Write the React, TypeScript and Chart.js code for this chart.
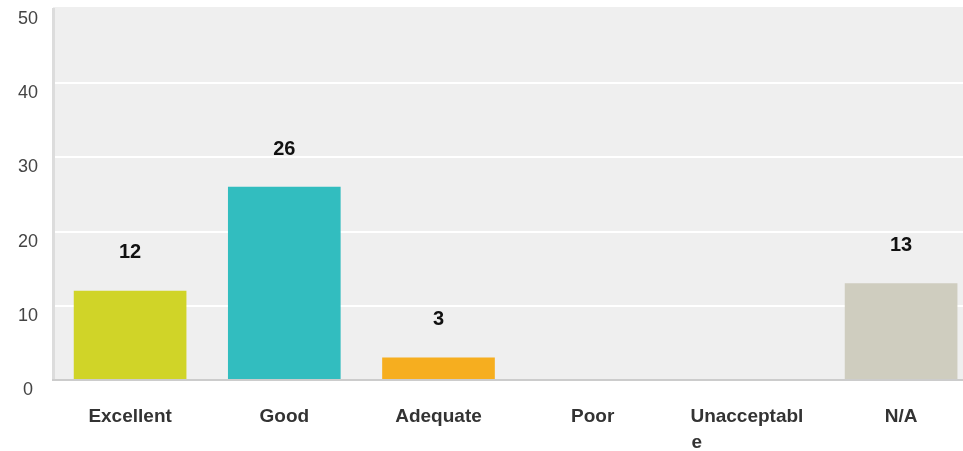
import React, { useEffect, useRef } from 'react';
import { Chart, registerables } from 'chart.js';

Chart.register(...registerables);

const categories = ['Excellent', 'Good', 'Adequate', 'Poor', 'Unacceptable', 'N/A'];
const tickLabels: (string | string[])[] = [
  'Excellent',
  'Good',
  'Adequate',
  'Poor',
  ['Unacceptabl', 'e' + ' '.repeat(19)],
  'N/A',
];
const responses = [12, 26, 3, 0, 0, 13];
const barColors = ['#d0d428', '#32bdbf', '#f6ae1f', '#7f7f7f', '#e05a4e', '#cfcdbf'];
const yTicks = [0, 10, 20, 30, 40, 50];

const FONT = '"Liberation Sans", Arial, Helvetica, sans-serif';

const plotBackground = {
  id: 'plotBackground',
  beforeDraw(chart: any) {
    const { ctx, chartArea } = chart;
    if (!chartArea) return;
    ctx.save();
    ctx.fillStyle = '#efefef';
    ctx.fillRect(chartArea.left, chartArea.top - 2, chartArea.right - chartArea.left, chartArea.bottom - chartArea.top + 2);
    ctx.restore();
  },
};

const valueLabels = {
  id: 'valueLabels',
  afterDatasetsDraw(chart: any) {
    const { ctx } = chart;
    const meta = chart.getDatasetMeta(0);
    const data = chart.data.datasets[0].data as number[];
    ctx.save();
    ctx.font = `bold 20px ${FONT}`;
    ctx.fillStyle = '#111111';
    ctx.textAlign = 'center';
    ctx.textBaseline = 'middle';
    meta.data.forEach((bar: any, i: number) => {
      const v = data[i];
      if (!v) return;
      ctx.fillText(String(v), bar.x, bar.y - 38);
    });
    ctx.restore();
  },
};

export default function App() {
  const canvasRef = useRef<HTMLCanvasElement | null>(null);

  useEffect(() => {
    if (!canvasRef.current) return;
    const chart = new Chart(canvasRef.current, {
      type: 'bar',
      data: {
        labels: categories,
        datasets: [
          {
            data: responses,
            backgroundColor: barColors,
            borderWidth: 0,
            barThickness: 112,
          },
        ],
      },
      options: {
        responsive: false,
        animation: false,
        devicePixelRatio: 1,
        layout: { padding: { left: 0, top: 9, right: 1.8, bottom: 0 } },
        plugins: {
          legend: { display: false },
          tooltip: { enabled: false },
        },
        scales: {
          x: {
            grid: { display: false, drawTicks: false },
            border: { display: true, color: '#cccccc', width: 2, z: 1 },
            ticks: {
              padding: 24,
              color: '#333333',
              font: { family: FONT, size: 19, weight: 'bold', lineHeight: 1.35 },
              maxRotation: 0,
              autoSkip: false,
              callback: (_v: any, i: number) => tickLabels[i],
            },
            afterFit: (s: any) => {
              s.height = 71;
              s.paddingLeft = 0;
              s.paddingRight = 0;
            },
          },
          y: {
            min: yTicks[0],
            max: yTicks[yTicks.length - 1],
            afterBuildTicks: (s: any) => {
              s.ticks = yTicks.map((v) => ({ value: v }));
            },
            ticks: {
              stepSize: 10,
              labelOffset: 10,
              crossAlign: 'center',
              padding: 15,
              color: '#444444',
              font: { family: FONT, size: 18 },
            },
            grid: {
              color: (c: any) =>
                c.tick && (c.tick.value === 0 || c.tick.value === 50) ? 'rgba(0,0,0,0)' : '#ffffff',
              lineWidth: 2,
              drawTicks: false,
            },
            border: { display: true, color: '#dcdcdc', width: 3 },
            afterFit: (s: any) => {
              s.width = 53;
              s.paddingTop = 0;
              s.paddingBottom = 0;
            },
          },
        },
      },
      plugins: [plotBackground, valueLabels],
    });
    return () => chart.destroy();
  }, []);

  return (
    <div
      style={{
        position: 'fixed',
        left: 0,
        top: 0,
        width: 963,
        height: 451,
        overflow: 'hidden',
        background: '#ffffff',
      }}
    >
      <canvas ref={canvasRef} width={980} height={451} style={{ display: 'block' }} />
    </div>
  );
}
